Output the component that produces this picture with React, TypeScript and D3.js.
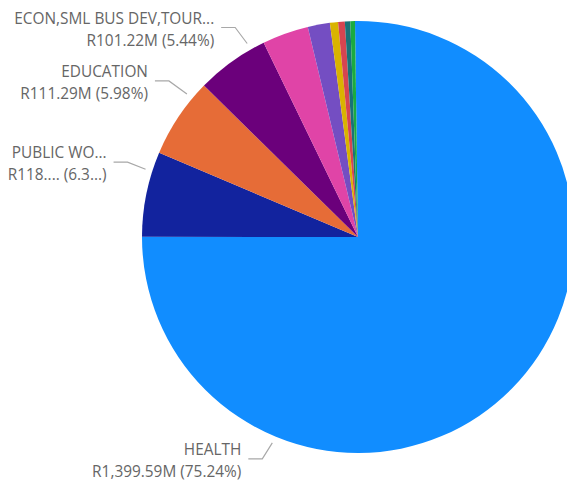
import React from "react";
import * as d3 from "d3";

const categories = [
  "HEALTH",
  "PUBLIC WORKS, ROADS & TRANSPORT",
  "EDUCATION",
  "ECON,SML BUS DEV,TOURISM & ENV AFFAIRS",
  "SOCIAL DEVELOPMENT",
  "AGRICULTURE & RURAL DEV",
  "COMMUNITY SAFETY",
  "CULTURE, SPORT & RECREATION",
  "HUMAN SETTLEMENTS",
  "OFFICE OF THE PREMIER",
];
const values = [1399.59, 118.45, 111.29, 101.22, 64.3, 30.8, 11.3, 9.3, 7.5, 6.45];
const colors = [
  "#118DFF", "#12239E", "#E66C37", "#6B007B", "#E044A7",
  "#744EC2", "#D9B300", "#D64550", "#197278", "#1AAB40",
];
// displayed (truncated) data labels, by category index
const labelNames = ["HEALTH", "PUBLIC WO...", "EDUCATION", "ECON,SML BUS DEV,TOUR..."];
const labelValues = ["R1,399.59M (75.24%)", "R118.... (6.3...)", "R111.29M (5.98%)", "R101.22M (5.44%)"];

const W = 567, H = 486;
const cx = 358, cy = 237, R = 216;
const deg = Math.PI / 180;

// leader layout per labelled slice: angle where the leader touches, elbow offset
const leaderLayout = [
  { angle: 202.6, ex: -10, ey: 16 },
  { angle: -72.3, ex: -18, ey: -7 },
  { angle: -50.1, ex: -18, ey: -13 },
  { angle: -29.8, ex: -12, ey: -16 },
];

export default function App() {
  const offset = -0.8 * deg;
  const pie = d3.pie<number>().sort(null).startAngle(offset).endAngle(2 * Math.PI + offset);
  const arcs = pie(values);
  const arc = d3.arc<d3.PieArcDatum<number>>().innerRadius(0).outerRadius(R);

  return (
    <svg width={W} height={H} style={{ position: "absolute", left: 0, top: 0, background: "#fff" }}
      fontFamily="'Segoe UI', 'Open Sans', sans-serif">
      <g transform={`translate(${cx},${cy})`}>
        {arcs.map((a, i) => (
          <path key={categories[i]} d={arc(a) || ""} fill={colors[i]} />
        ))}
        {labelNames.map((name, i) => {
          const L = leaderLayout[i];
          const r = R + 7;
          const ax = r * Math.sin(L.angle * deg);
          const ay = -r * Math.cos(L.angle * deg);
          const bx = ax + L.ex, by = ay + L.ey;
          const hx = bx - 14;
          const tx = hx - 7;
          return (
            <g key={name}>
              <polyline points={`${ax},${ay} ${bx},${by} ${hx},${by}`} fill="none" stroke="#A8A8A8" strokeWidth={1.2} />
              <text x={tx} y={by - 4} textAnchor="end" fontSize={15.4} fill="#666666">{name}</text>
              <text x={tx} y={by + 18} textAnchor="end" fontSize={15.4} fill="#666666">{labelValues[i]}</text>
            </g>
          );
        })}
      </g>
    </svg>
  );
}
